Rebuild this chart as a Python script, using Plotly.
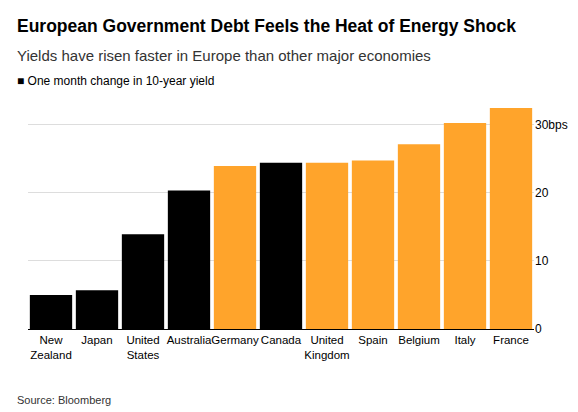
import plotly.graph_objects as go

countries = ["New<br>Zealand", "Japan", "United<br>States", "Australia", "Germany", "Canada",
             "United<br>Kingdom", "Spain", "Belgium", "Italy", "France"]
change_bps = [5.0, 5.7, 13.9, 20.3, 23.9, 24.4, 24.4, 24.7, 27.1, 30.2, 32.4]
is_europe = [False, False, False, False, True, False, True, True, True, True, True]
tick_vals = [0, 10, 20, 30]
tick_text = ["0", "10", "20", "30bps"]

colors = ["#ffa42b" if e else "#000000" for e in is_europe]

fig = go.Figure(go.Bar(x=countries, y=change_bps, marker_color=colors,
                       marker_line_width=0, width=0.92, showlegend=False))

T, B = 96, 91
H = 412 - T - B


def py(pixel):
    # pixel row from top of the page -> paper coordinate
    return (412 - B - pixel) / H


fig.update_layout(
    width=578, height=412,
    margin=dict(l=20, r=52, t=T, b=B),
    plot_bgcolor="white", paper_bgcolor="white",
    font=dict(family="Liberation Sans, Arial", size=12, color="#000"),
    bargap=0.08,
)
fig.update_xaxes(tickfont=dict(size=11.5), showline=True, linecolor="#000",
                 linewidth=1, ticks="", tickangle=0)
fig.update_yaxes(side="right", range=[0, 33], tickvals=tick_vals, ticktext=tick_text,
                 gridcolor="#dddddd", zeroline=False, tickfont=dict(size=12))

fig.add_annotation(text="<b>European Government Debt Feels the Heat of Energy Shock</b>",
                   xref="paper", yref="paper", x=-0.025, y=py(6),
                   xanchor="left", yanchor="top", showarrow=False,
                   font=dict(size=17.5))
fig.add_annotation(text="Yields have risen faster in Europe than other major economies",
                   xref="paper", yref="paper", x=-0.025, y=py(37),
                   xanchor="left", yanchor="top", showarrow=False,
                   font=dict(size=15, color="#333"))
fig.add_annotation(text="■ One month change in 10-year yield",
                   xref="paper", yref="paper", x=-0.025, y=py(64),
                   xanchor="left", yanchor="top", showarrow=False,
                   font=dict(size=12))
fig.add_annotation(text="Source: Bloomberg",
                   xref="paper", yref="paper", x=-0.025, y=py(392),
                   xanchor="left", yanchor="middle", showarrow=False,
                   font=dict(size=11, color="#333"))

fig.write_html("out.html")
